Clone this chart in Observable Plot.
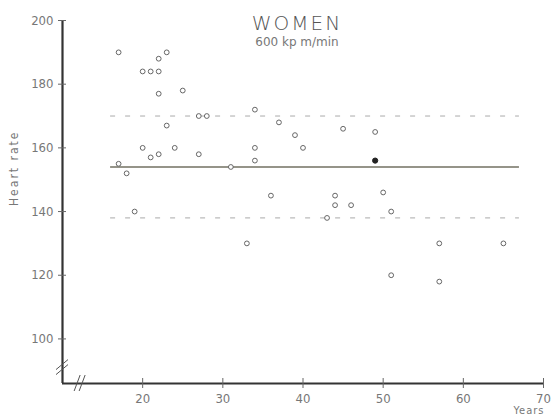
<!DOCTYPE html>
<html><head><meta charset="utf-8">
<script src="https://cdn.jsdelivr.net/npm/d3@7"></script>
<script src="https://cdn.jsdelivr.net/npm/@observablehq/plot@0.6"></script>
<style>
html,body{margin:0;padding:0;background:#fff;}
#chart{width:552px;height:418px;overflow:hidden;}
</style></head><body><div id="chart"></div>
<script>
// ---- data ----
const ages       = [17, 23, 22, 20, 21, 22, 22, 25, 27, 28, 23, 34, 37, 39, 45, 49, 20, 24, 21, 22, 27, 17, 18, 19, 34, 40, 34, 31, 36, 44, 44, 46, 43, 33, 50, 51, 57, 65, 51, 57];
const heartRates = [190, 190, 188, 184, 184, 184, 177, 178, 170, 170, 167, 172, 168, 164, 166, 165, 160, 160, 157, 158, 158, 155, 152, 140, 160, 160, 156, 154, 145, 145, 142, 142, 138, 130, 146, 140, 130, 130, 120, 118];
const filledAges  = [49];
const filledRates = [156];
const meanRate  = [154];
const bandRates = [138, 170];
const lineSpan  = [16, 67];
const xTicks = [20, 30, 40, 50, 60, 70];
const yTicks = [100, 120, 140, 160, 180, 200];
const xDomain = [10, 70];
const yDomain = [86, 200];
const breakAt = {x: 12.2, y: 91};
const title = "WOMEN";
const subtitle = "600 kp m/min";
const xLabel = "Years";
const yLabel = "Heart rate";

const points = ages.map((a, i) => ({age: a, rate: heartRates[i]}));
const filled = filledAges.map((a, i) => ({age: a, rate: filledRates[i]}));

const font = "'DejaVu Sans Condensed', 'DejaVu Sans', sans-serif";

const chart = Plot.plot({
  width: 552, height: 418,
  marginLeft: 62, marginRight: 9, marginTop: 20, marginBottom: 35,
  x: {domain: xDomain},
  y: {domain: yDomain},
  style: {fontFamily: font, background: "white", overflow: "visible"},
  marks: [
    Plot.ruleY(bandRates, {x1: lineSpan[0], x2: lineSpan[1], stroke: "#aaa", strokeWidth: 1, strokeDasharray: "5,10"}),
    Plot.ruleY(meanRate, {x1: lineSpan[0], x2: lineSpan[1], stroke: "#727062", strokeWidth: 1.4}),
    Plot.dot(points, {x: "age", y: "rate", r: 2.4, stroke: "#666", fill: "white", strokeWidth: 1}),
    Plot.dot(filled, {x: "age", y: "rate", r: 2.6, stroke: "#222", fill: "#222", strokeWidth: 1}),
    Plot.ruleX([xDomain[0]], {y1: yDomain[0], y2: yDomain[1], stroke: "#333", strokeWidth: 2.2}),
    Plot.ruleY([yDomain[0]], {x1: xDomain[0], x2: xDomain[1], stroke: "#333", strokeWidth: 2.2}),
    Plot.axisY(yTicks, {tickSize: 8, dx: 4, tickPadding: 5, stroke: "#666", fill: "#777", fontSize: 13, label: null}),
    Plot.axisX(xTicks, {tickSize: 10, dy: -5, tickPadding: 5, stroke: "#666", fill: "#777", fontSize: 13, label: null}),
    Plot.text([title], {frameAnchor: "top", lineAnchor: "top", dx: -6, dy: -5, fontSize: 20, fontWeight: 200, fill: "#555", fontFamily: "'DejaVu Sans', sans-serif"}),
    Plot.text([subtitle], {frameAnchor: "top", lineAnchor: "top", dx: -6, dy: 17, fontSize: 12, fill: "#777", fontFamily: "'DejaVu Sans', sans-serif"}),
    Plot.text([yLabel], {frameAnchor: "left", rotate: -90, dx: -48, dy: 4, fontSize: 12, fill: "#777"}),
    Plot.text([xLabel], {frameAnchor: "bottom-right", textAnchor: "start", lineAnchor: "top", dx: -30, dy: 23, fontSize: 11, fill: "#777"})
  ]
});

document.getElementById("chart").appendChild(chart);

// letter spacing for the labels
d3.select(chart).selectAll("text").each(function() {
  const t = this.textContent;
  if (t === title) d3.select(this).style("letter-spacing", "2px");
  if (t === yLabel) d3.select(this).style("letter-spacing", "2px");
  if (t === xLabel) d3.select(this).style("letter-spacing", "1px");
});

// axis break marks, positioned through the chart's scales
const sx = chart.scale("x"), sy = chart.scale("y");
const g = d3.select(chart).append("g").attr("stroke", "#555").attr("stroke-width", 1).attr("fill", "none");
const ax = sx.apply(xDomain[0]), ay = sy.apply(yDomain[0]);
const by = sy.apply(breakAt.y), bx = sx.apply(breakAt.x);
for (const o of [-2.5, 2.5]) {
  g.append("line").attr("x1", ax - 6).attr("y1", by + o + 5).attr("x2", ax + 6).attr("y2", by + o - 5);
  g.append("line").attr("x1", bx + o - 3).attr("y1", ay + 8).attr("x2", bx + o + 3).attr("y2", ay - 8);
}
</script>
</body></html>
